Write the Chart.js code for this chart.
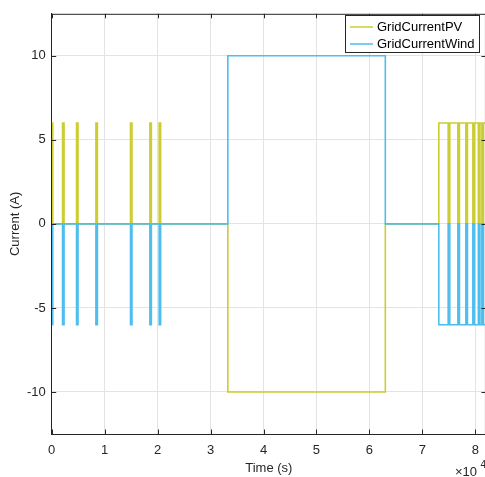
<!DOCTYPE html>
<html>
<head>
<meta charset="utf-8">
<script src="https://cdn.jsdelivr.net/npm/chart.js@4"></script>
<style>
  html, body { margin: 0; padding: 0; background: #fff; overflow: hidden; }
  #wrap { position: relative; width: 488px; height: 477px; }
</style>
</head>
<body>
<div id="wrap"><canvas id="gridChart" width="488" height="477"></canvas></div>
<script>
// switch times (s) and the level each series takes from that moment on
const switchTimes = [0, 200, 2050, 2330, 4690, 4970, 8350, 8630, 14880, 15160,
  18540, 18820, 20290, 20570, 33260, 63000, 73100,
  74870, 75170, 76700, 77000, 78210, 78510, 79530, 79830, 80570, 80870, 81230, 81530, 82000];
const pvLevels = [6, 0, 6, 0, 6, 0, 6, 0, 6, 0,
  6, 0, 6, 0, -10, 0, 6,
  0, 6, 0, 6, 0, 6, 0, 6, 0, 6, 0, 6, 6];
const windLevels = [-6, 0, -6, 0, -6, 0, -6, 0, -6, 0,
  -6, 0, -6, 0, 10, 0, -6,
  0, -6, 0, -6, 0, -6, 0, -6, 0, -6, 0, -6, -6];

const seriesNames = ["GridCurrentPV", "GridCurrentWind"];
const xTicks = [0, 10000, 20000, 30000, 40000, 50000, 60000, 70000, 80000];
const yTicks = [-10, -5, 0, 5, 10];

const pvColor = "rgb(204,204,51)";
const windColor = "rgb(77,190,238)";
const axisColor = "#262626";
const font = "'Liberation Sans', Arial, sans-serif";

const toPoints = levels => switchTimes.map((t, i) => ({ x: t, y: levels[i] }));

// inward ticks, top/right box, titles, legend, exponent
const matlabDecor = {
  id: "matlabDecor",
  afterDraw(chart) {
    const { ctx, chartArea: a, scales } = chart;
    const tl = 4.5;
    ctx.save();
    ctx.strokeStyle = axisColor;
    ctx.lineWidth = 1;
    ctx.beginPath();
    ctx.moveTo(a.left, a.top + 0.5);
    ctx.lineTo(a.right, a.top + 0.5);
    ctx.moveTo(a.right - 0.5, a.top);
    ctx.lineTo(a.right - 0.5, a.bottom);
    xTicks.forEach(v => {
      const px = Math.round(scales.x.getPixelForValue(v)) + 0.5;
      ctx.moveTo(px, a.bottom); ctx.lineTo(px, a.bottom - tl);
      ctx.moveTo(px, a.top); ctx.lineTo(px, a.top + tl);
    });
    yTicks.forEach(v => {
      const py = Math.round(scales.y.getPixelForValue(v)) + 0.5;
      ctx.moveTo(a.left, py); ctx.lineTo(a.left + tl, py);
      ctx.moveTo(a.right, py); ctx.lineTo(a.right - tl, py);
    });
    ctx.stroke();

    ctx.fillStyle = axisColor;
    ctx.font = "13px " + font;
    ctx.textAlign = "center";
    ctx.textBaseline = "middle";
    ctx.fillText("Time (s)", (a.left + a.right) / 2, 468);

    ctx.save();
    ctx.translate(15, (a.top + a.bottom) / 2);
    ctx.rotate(-Math.PI / 2);
    ctx.fillText("Current (A)", 0, 0);
    ctx.restore();

    ctx.textAlign = "left";
    ctx.fillText("\u00d710", 455, 472);
    ctx.font = "10px " + font;
    ctx.fillText("4", 480.5, 465);

    // legend
    const lx = 345.5, ly = 15.5, lw = 134, lh = 37;
    ctx.fillStyle = "#fff";
    ctx.fillRect(lx, ly, lw, lh);
    ctx.strokeStyle = axisColor;
    ctx.strokeRect(lx, ly, lw, lh);
    ctx.font = "13px " + font;
    ctx.fillStyle = "#000";
    ctx.lineWidth = 1.5;
    [pvColor, windColor].forEach((c, i) => {
      const y = 27 + i * 17;
      ctx.strokeStyle = c;
      ctx.beginPath();
      ctx.moveTo(350, y);
      ctx.lineTo(373, y);
      ctx.stroke();
      ctx.fillText(seriesNames[i], 377, y);
    });
    ctx.restore();
  }
};

new Chart(document.getElementById("gridChart"), {
  type: "line",
  data: {
    datasets: [
      {
        label: seriesNames[0],
        data: toPoints(pvLevels),
        borderColor: pvColor,
        borderWidth: 1.6,
        stepped: true,
        pointRadius: 0,
        order: 1
      },
      {
        label: seriesNames[1],
        data: toPoints(windLevels),
        borderColor: windColor,
        borderWidth: 1.6,
        stepped: true,
        pointRadius: 0,
        order: 0
      }
    ]
  },
  options: {
    responsive: false,
    animation: false,
    events: [],
    layout: { padding: { left: 0, top: 11, right: 1.5, bottom: 0 } },
    plugins: { legend: { display: false }, tooltip: { enabled: false } },
    scales: {
      x: {
        type: "linear",
        min: 0,
        max: 82000,
        afterBuildTicks: s => { s.ticks = xTicks.map(v => ({ value: v })); },
        afterFit: s => { s.height = 43; },
        grid: { color: "#e3e3e3", drawTicks: false },
        border: { color: axisColor, width: 1 },
        ticks: {
          padding: 9,
          color: axisColor,
          font: { family: font, size: 13 },
          maxRotation: 0,
          callback: v => String(v / 10000)
        }
      },
      y: {
        min: -12.5,
        max: 12.5,
        afterBuildTicks: s => { s.ticks = yTicks.map(v => ({ value: v })); },
        afterFit: s => { s.width = 51.7; },
        grid: { color: "#e3e3e3", drawTicks: false },
        border: { color: axisColor, width: 1 },
        ticks: {
          padding: 6,
          color: axisColor,
          font: { family: font, size: 13 },
          callback: v => String(v)
        }
      }
    }
  },
  plugins: [matlabDecor]
});
</script>
</body>
</html>
